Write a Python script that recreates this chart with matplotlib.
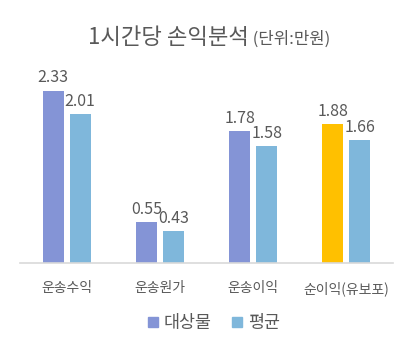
import matplotlib
matplotlib.use('Agg')
import matplotlib.pyplot as plt
import numpy as np
from matplotlib.lines import Line2D

plt.rcParams['font.family'] = ['Noto Sans CJK KR', 'DejaVu Sans']

categories = ['운송수익', '운송원가', '운송이익', '순이익(유보포)']
target = [2.33, 0.55, 1.78, 1.88]
average = [2.01, 0.43, 1.58, 1.66]
target_colors = ['#8494D6', '#8494D6', '#8494D6', '#FFC000']
avg_color = '#7FB7DB'
text_color = '#595959'

fig = plt.figure(figsize=(4.17, 3.52), dpi=100)
ax = fig.add_axes([20/417, 1 - 263/352, 373/417, 185/352])

x = np.arange(len(categories))
w = 0.225
off = 0.145
b1 = ax.bar(x - off, target, w, color=target_colors)
b2 = ax.bar(x + off, average, w, color=avg_color)

for bars, vals in [(b1, target), (b2, average)]:
    for b, v in zip(bars, vals):
        ax.annotate(f'{v:.2f}', (b.get_x() + b.get_width()/2, v),
                    xytext=(0, 3), textcoords='offset points',
                    ha='center', va='bottom', fontsize=11.5, color=text_color)

ax.set_xlim(-0.5, 3.5)
ax.set_ylim(0, 2.5)
ax.set_yticks([])
ax.set_xticks(x)
ax.set_xticklabels(categories, fontsize=10, color=text_color)
ax.tick_params(axis='x', length=0, pad=13)
for s in ['top', 'right', 'left']:
    ax.spines[s].set_visible(False)
ax.spines['bottom'].set_color('#D9D9D9')
ax.spines['bottom'].set_linewidth(1.2)

# title: big part + smaller unit, centred together
t1 = fig.text(0, 1 - 38/352, '1시간당 손익분석', fontsize=16, color=text_color,
              ha='left', va='center')
t2 = fig.text(0, 1 - 39/352, ' (단위:만원)', fontsize=12, color=text_color,
              ha='left', va='center')
r = fig.canvas.get_renderer()
w1 = t1.get_window_extent(r).width / 417
w2 = t2.get_window_extent(r).width / 417
start = 209/417 - (w1 + w2) / 2
t1.set_x(start)
t2.set_x(start + w1)

handles = [Line2D([], [], marker='s', linestyle='', color='#8494D6', markersize=7),
           Line2D([], [], marker='s', linestyle='', color=avg_color, markersize=7)]
fig.legend(handles, ['대상물', '평균'], loc='center', bbox_to_anchor=(212/417, 1 - 323/352),
           ncol=2, frameon=False, fontsize=12.5, labelcolor=text_color,
           handletextpad=0.1, columnspacing=1.0, handlelength=1.0)

plt.savefig('out.png', dpi=100)
